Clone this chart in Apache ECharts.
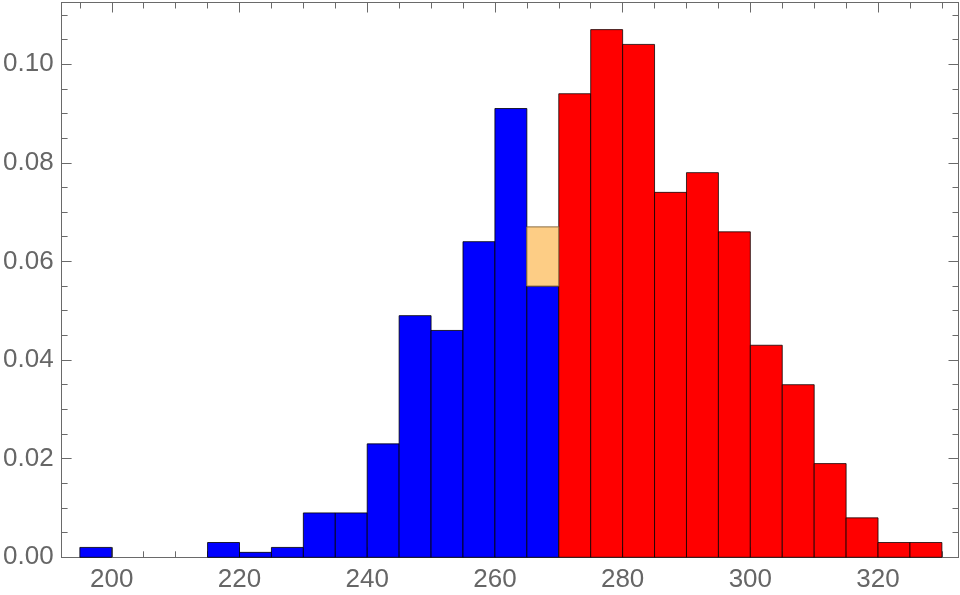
<!DOCTYPE html>
<html>
<head>
<meta charset="utf-8">
<script src="https://cdn.jsdelivr.net/npm/echarts@6/dist/echarts.min.js"></script>
<style>html,body{margin:0;padding:0;background:#fff}#c{width:960px;height:595px}</style>
</head>
<body>
<div id="c"></div>
<script>
const binWidth = 5;
const blueStarts = [195,200,205,210,215,220,225,230,235,240,245,250,255,260,265];
const blueValues = [0.002,0,0,0,0.003,0.001,0.002,0.009,0.009,0.023,0.049,0.046,0.064,0.091,0.055];
const redStarts = [270,275,280,285,290,295,300,305,310,315,320,325];
const redValues = [0.094,0.107,0.104,0.074,0.078,0.066,0.043,0.035,0.019,0.008,0.003,0.003];
const orangeStarts = [265];
const orangeBase = [0.055];
const orangeTop = [0.067];
const xMajorTicks = [200,220,240,260,280,300,320];
const xMinorTicks = [195,205,210,215,225,230,235,245,250,255,265,270,275,285,290,295,305,310,315,325,330];
const yMajorTicks = [0,0.02,0.04,0.06,0.08,0.10];
const yMinorTicks = [0.005,0.01,0.015,0.025,0.03,0.035,0.045,0.05,0.055,0.065,0.07,0.075,0.085,0.09,0.095,0.105,0.11];

const X_MIN = 192.14, X_MAX = 332.6, Y_MIN = 0, Y_MAX = 0.1125;
const AX = '#6a6a6a';
const FONT = 'Liberation Sans, Arial, sans-serif';

function bins(starts, lows, highs, fill, stroke){
  return starts.map((s,i)=>({value:[s, s+binWidth, lows ? lows[i] : 0, highs[i]], fill, stroke}));
}
const blueData = bins(blueStarts, null, blueValues, '#0000ff', 'rgba(0,0,0,0.8)').filter(d=>d.value[3]>0);
const redData = bins(redStarts, null, redValues, '#ff0000', 'rgba(0,0,0,0.75)');
const orangeData = bins(orangeStarts, orangeBase, orangeTop, '#fdcd85', '#8a6a3c');

function renderItem(params, api){
  const x0 = api.value(0), x1 = api.value(1), y0 = api.value(2), y1 = api.value(3);
  const p0 = api.coord([x0, y0]);
  const p1 = api.coord([x1, y1]);
  return {
    type:'rect',
    shape:{x:p0[0], y:p1[1], width:p1[0]-p0[0], height:p0[1]-p1[1]},
    style:{fill:api.visual('color'), stroke:params.data_stroke, lineWidth:1}
  };
}
function mkSeries(data){
  return {
    type:'custom', xAxisIndex:0, yAxisIndex:0,
    data:data.map(d=>({value:d.value, itemStyle:{color:d.fill}})),
    renderItem:function(params, api){
      const d = data[params.dataIndex];
      const x0 = api.value(0), x1 = api.value(1), y0 = api.value(2), y1 = api.value(3);
      const p0 = api.coord([x0, y0]);
      const p1 = api.coord([x1, y1]);
      return {type:'rect', shape:{x:p0[0], y:p1[1], width:p1[0]-p0[0], height:p0[1]-p1[1]},
        style:{fill:d.fill, stroke:d.stroke, lineWidth:1}};
    },
    silent:true, animation:false
  };
}

function xAx(pos, ticks, len, labels){
  return {type:'value', position:pos, min:X_MIN, max:X_MAX,
    axisLine:{show:true, onZero:false, lineStyle:{color:AX, width:1}},
    axisTick:{show:true, inside:true, length:len, customValues:ticks, lineStyle:{color:AX, width:1}},
    axisLabel:labels ? {show:true, customValues:xMajorTicks, color:'#666', fontSize:26, fontFamily:FONT, margin:10} : {show:false},
    splitLine:{show:false}};
}
function yAx(pos, ticks, len, labels){
  return {type:'value', position:pos, min:Y_MIN, max:Y_MAX,
    axisLine:{show:true, onZero:false, lineStyle:{color:AX, width:1}},
    axisTick:{show:true, inside:true, length:len, customValues:ticks, lineStyle:{color:AX, width:1}},
    axisLabel:labels ? {show:true, customValues:yMajorTicks, color:'#666', fontSize:26, fontFamily:FONT, margin:8,
      formatter:v=>v.toFixed(2)} : {show:false},
    splitLine:{show:false}};
}

const chart = echarts.init(document.getElementById('c'), null, {renderer:'canvas'});
chart.setOption({
  animation:false,
  backgroundColor:'#fff',
  grid:{left:60, right:1.5, top:2.5, bottom:37.7, containLabel:false},
  xAxis:[xAx('bottom', xMajorTicks, 10, true), xAx('bottom', xMinorTicks, 6, false),
         xAx('top', xMajorTicks, 10, false), xAx('top', xMinorTicks, 6, false)],
  yAxis:[yAx('left', yMajorTicks, 10, true), yAx('left', yMinorTicks, 6, false),
         yAx('right', yMajorTicks, 10, false), yAx('right', yMinorTicks, 6, false)],
  series:[mkSeries(blueData), mkSeries(redData), mkSeries(orangeData)]
});
</script>
</body>
</html>
